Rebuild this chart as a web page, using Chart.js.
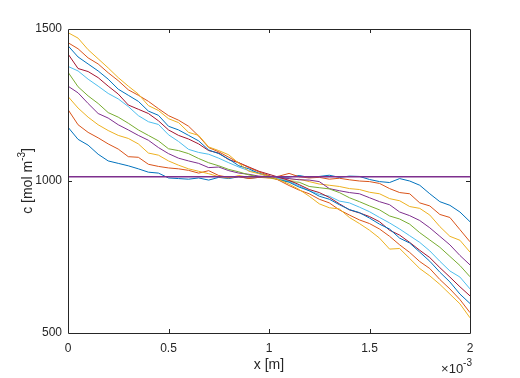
<!DOCTYPE html>
<html>
<head>
<meta charset="utf-8">
<script src="https://cdn.jsdelivr.net/npm/chart.js@4.4.1/dist/chart.umd.min.js"></script>
<style>
  html, body { margin: 0; padding: 0; background: #fff; }
  canvas { display: block; }
</style>
</head>
<body>
<canvas id="grafico" width="520" height="378"></canvas>
<script>
// x en unidades de 1e-3 m (el eje lleva el factor x10^-3)
const xGrid = [0, 0.05, 0.1, 0.15, 0.2, 0.25, 0.3, 0.35, 0.4, 0.45, 0.5, 0.55, 0.6, 0.65, 0.7, 0.75, 0.8, 0.85, 0.9, 0.95,
    1, 1.05, 1.1, 1.15, 1.2, 1.25, 1.3, 1.35, 1.4, 1.45, 1.5, 1.55, 1.6, 1.65, 1.7, 1.75, 1.8, 1.85, 1.9, 1.95, 2];

// perfiles de concentracion c [mol m^-3], uno por instante
const perfil1 = [1177, 1137, 1118, 1088, 1066, 1058, 1050, 1040, 1029, 1026, 1010, 1008, 1006, 1010, 1003, 1012, 1008, 1014, 1009, 1012,
    1016, 1011, 1013, 1018, 1012, 1015, 1019, 1012, 1016, 1015, 1005, 998, 995, 1008, 1000, 986, 958, 932, 920, 898, 866];
const perfil2 = [1235, 1185, 1160, 1142, 1122, 1105, 1080, 1078, 1055, 1048, 1043, 1040, 1035, 1026, 1034, 1018, 1012, 1014, 1008, 1012,
    1010, 1016, 1025, 1014, 1010, 1012, 1006, 1009, 1004, 1000, 998, 992, 975, 962, 958, 928, 918, 890, 880, 840, 800];
const perfil3 = [1278, 1240, 1210, 1185, 1166, 1150, 1140, 1122, 1092, 1085, 1066, 1052, 1040, 1032, 1024, 1014, 1010, 1018, 1012, 1015,
    1010, 1004, 1002, 1006, 998, 990, 986, 982, 975, 972, 963, 958, 942, 935, 916, 910, 888, 850, 818, 805, 766];
const perfil4 = [1312, 1290, 1255, 1222, 1207, 1185, 1168, 1150, 1134, 1110, 1090, 1075, 1066, 1058, 1044, 1046, 1034, 1026, 1022, 1016,
    1014, 1010, 1008, 1004, 1003, 998, 975, 968, 962, 958, 945, 932, 922, 898, 886, 870, 846, 818, 790, 755, 724];
const perfil5 = [1358, 1310, 1280, 1255, 1225, 1210, 1190, 1168, 1150, 1132, 1106, 1100, 1090, 1074, 1060, 1050, 1038, 1030, 1020, 1014,
    1012, 1004, 998, 996, 982, 978, 974, 962, 945, 932, 918, 905, 885, 875, 858, 830, 806, 782, 752, 722, 685];
const perfil6 = [1377, 1362, 1335, 1312, 1288, 1270, 1245, 1215, 1195, 1186, 1152, 1130, 1104, 1094, 1088, 1075, 1060, 1046, 1034, 1026,
    1016, 1008, 998, 984, 968, 956, 950, 934, 928, 914, 899, 880, 862, 842, 820, 798, 770, 736, 704, 684, 645];
const perfil7 = [1418, 1370, 1360, 1340, 1312, 1286, 1250, 1236, 1222, 1198, 1168, 1150, 1138, 1122, 1100, 1092, 1070, 1060, 1046, 1032,
    1022, 1012, 1002, 988, 972, 962, 946, 925, 905, 895, 883, 866, 838, 822, 798, 772, 748, 715, 684, 652, 622];
const perfil8 = [1445, 1408, 1385, 1362, 1335, 1302, 1282, 1262, 1230, 1216, 1180, 1168, 1150, 1132, 1102, 1090, 1072, 1050, 1040, 1025,
    1015, 1004, 996, 980, 968, 950, 940, 922, 906, 896, 878, 858, 842, 812, 796, 766, 736, 700, 668, 628, 597];
const perfil9 = [1455, 1435, 1405, 1385, 1356, 1330, 1300, 1282, 1262, 1238, 1215, 1200, 1180, 1148, 1110, 1096, 1078, 1060, 1044, 1030,
    1018, 1002, 985, 970, 958, 940, 928, 905, 888, 872, 860, 842, 818, 790, 765, 735, 712, 676, 645, 610, 567];
const perfil10 = [1488, 1470, 1432, 1402, 1372, 1340, 1312, 1286, 1248, 1232, 1205, 1192, 1160, 1150, 1112, 1100, 1086, 1058, 1032, 1024,
    1015, 1004, 990, 972, 950, 925, 912, 908, 880, 860, 838, 812, 776, 778, 745, 712, 688, 660, 628, 596, 550];

// condicion inicial uniforme (linea horizontal)
const xExtremos = [0, 2];
const perfilInicial = [1014, 1014];

const xTicks = [0, 0.5, 1, 1.5, 2];
const xTickLabels = ['0', '0.5', '1', '1.5', '2'];
const yTicks = [500, 1000, 1500];
const yTickLabels = ['500', '1000', '1500'];

// orden de colores por defecto de MATLAB
const COLORES = ['#0072BD', '#D95319', '#EDB120', '#7E2F8E', '#77AC30', '#4DBEEE', '#A2142F'];
const COLOR_EJE = '#262626';
const FUENTE = '"Liberation Sans", Arial, Helvetica, sans-serif';

const perfiles = [perfil1, perfil2, perfil3, perfil4, perfil5, perfil6, perfil7, perfil8, perfil9, perfil10];

const datasets = perfiles.map((p, i) => ({
    data: p.map((c, k) => ({ x: xGrid[k], y: c })),
    borderColor: COLORES[i % COLORES.length],
    order: 20 - i
}));
datasets.push({
    data: perfilInicial.map((c, k) => ({ x: xExtremos[k], y: c })),
    borderColor: COLORES[datasets.length % COLORES.length],
    borderWidth: 1.3,
    order: 0
});

// texto con superindice: partes [texto, esSuper]
function anchoPartes(ctx, partes, tam, tamSup) {
    let w = 0;
    for (const [t, sup] of partes) {
        ctx.font = `${sup ? tamSup : tam}px ${FUENTE}`;
        w += ctx.measureText(t).width;
    }
    return w;
}
function dibujarPartes(ctx, partes, x0, y0, tam, tamSup, subida) {
    let x = x0;
    for (const [t, sup] of partes) {
        ctx.font = `${sup ? tamSup : tam}px ${FUENTE}`;
        ctx.fillText(t, x, sup ? y0 - subida : y0);
        x += ctx.measureText(t).width;
    }
}

// caja de ejes estilo MATLAB: marco completo, marcas hacia dentro y titulos
const marcoMatlab = {
    id: 'marcoMatlab',
    afterDraw(chart) {
        const { ctx, chartArea: a, scales: { x, y } } = chart;
        const L = 4;
        ctx.save();
        ctx.strokeStyle = COLOR_EJE;
        ctx.lineWidth = 1;
        ctx.beginPath();
        ctx.rect(a.left + 0.5, a.top + 0.5, a.right - a.left, a.bottom - a.top);
        for (const v of xTicks.slice(1, -1)) {
            const px = Math.round(x.getPixelForValue(v)) + 0.5;
            ctx.moveTo(px, a.bottom); ctx.lineTo(px, a.bottom - L);
            ctx.moveTo(px, a.top); ctx.lineTo(px, a.top + L);
        }
        for (const v of yTicks.slice(1, -1)) {
            const py = Math.round(y.getPixelForValue(v)) + 0.5;
            ctx.moveTo(a.left, py); ctx.lineTo(a.left + L, py);
            ctx.moveTo(a.right, py); ctx.lineTo(a.right - L, py);
        }
        ctx.stroke();

        ctx.fillStyle = COLOR_EJE;
        ctx.textBaseline = 'middle';
        ctx.textAlign = 'left';

        // titulo eje x
        const tx = [['x [m]', false]];
        const wx = anchoPartes(ctx, tx, 14, 10);
        dibujarPartes(ctx, tx, (a.left + a.right) / 2 - wx / 2, 365, 14, 10, 5);

        // factor x10^-3
        const fx = [['\u00d7', false], ['10', false], ['-3', true]];
        const wf = anchoPartes(ctx, fx, 13, 10);
        dibujarPartes(ctx, fx, a.right + 2 - wf, 369, 13, 10, 6);

        // titulo eje y
        const ty = [['c [mol m', false], ['-3', true], [']', false]];
        const wy = anchoPartes(ctx, ty, 14, 10);
        ctx.translate(28, (a.top + a.bottom) / 2);
        ctx.rotate(-Math.PI / 2);
        dibujarPartes(ctx, ty, -wy / 2, 0, 14, 10, 6);
        ctx.restore();
    }
};

new Chart(document.getElementById('grafico'), {
    type: 'line',
    data: { datasets },
    options: {
        responsive: false,
        animation: false,
        devicePixelRatio: 1,
        layout: { padding: { top: 29, right: 50, left: 0, bottom: 0 } },
        elements: {
            point: { radius: 0 },
            line: { borderWidth: 1, tension: 0 }
        },
        plugins: {
            legend: { display: false },
            tooltip: { enabled: false }
        },
        scales: {
            x: {
                type: 'linear',
                min: 0,
                max: 2,
                afterBuildTicks: (s) => { s.ticks = xTicks.map(v => ({ value: v })); },
                afterFit: (s) => { s.height = 45; },
                grid: { display: false, drawTicks: false },
                border: { display: false },
                ticks: {
                    padding: 8,
                    color: COLOR_EJE,
                    font: { family: FUENTE, size: 12 },
                    maxRotation: 0,
                    callback: (v, i) => xTickLabels[i]
                }
            },
            y: {
                type: 'linear',
                min: 500,
                max: 1500,
                afterBuildTicks: (s) => { s.ticks = yTicks.map(v => ({ value: v })); },
                afterFit: (s) => { s.width = 68; },
                grid: { display: false, drawTicks: false },
                border: { display: false },
                ticks: {
                    padding: 6,
                    color: COLOR_EJE,
                    font: { family: FUENTE, size: 12 },
                    callback: (v, i) => yTickLabels[i]
                }
            }
        }
    },
    plugins: [marcoMatlab]
});
</script>
</body>
</html>
